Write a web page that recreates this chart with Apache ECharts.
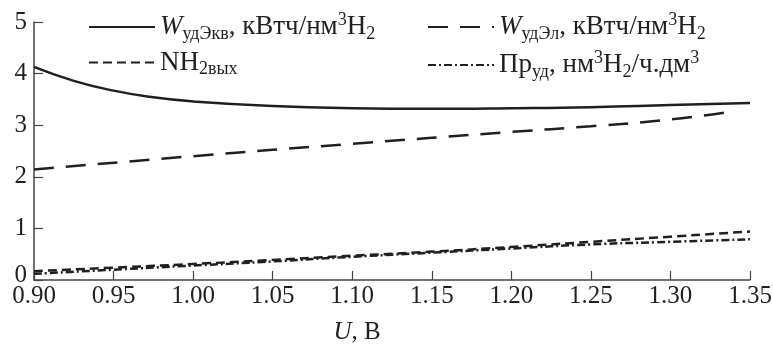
<!DOCTYPE html>
<html><head><meta charset="utf-8">
<script src="https://cdn.jsdelivr.net/npm/echarts@6/dist/echarts.min.js"></script>
<style>html,body{margin:0;padding:0;background:#fff}#c{width:773px;height:348px}</style>
</head><body><div id="c"></div>
<script>
const uValues = [0.90, 0.925, 0.95, 0.975, 1.00, 1.05, 1.10, 1.15, 1.20, 1.25, 1.30, 1.35];
const wEkv =    [4.13, 3.86, 3.67, 3.54, 3.46, 3.37, 3.33, 3.32, 3.33, 3.35, 3.39, 3.43];
const uEl = [0.90, 1.00, 1.10, 1.20, 1.25, 1.30, 1.335];
const wEl = [2.14, 2.40, 2.64, 2.87, 2.98, 3.11, 3.25];
const uLow = [0.90, 0.95, 1.00, 1.05, 1.10, 1.15, 1.20, 1.25, 1.30, 1.35];
const nh2 =  [0.17, 0.24, 0.31, 0.39, 0.47, 0.55, 0.64, 0.74, 0.84, 0.94];
const prUd = [0.12, 0.20, 0.28, 0.36, 0.45, 0.53, 0.61, 0.69, 0.74, 0.79];
const xTicks = ['0.90','0.95','1.00','1.05','1.10','1.15','1.20','1.25','1.30','1.35'];
const yTicks = ['0','1','2','3','4','5'];

const names = {
  ekv: '{i|W}{sub|удЭкв}{n|, кВтч/нм}{sup|3}{n|H}{sub|2}',
  el: '{i|W}{sub|удЭл}{n|, кВтч/нм}{sup|3}{n|H}{sub|2}',
  nh: '{n|NH}{sub|2вых}',
  pr: '{n|Пр}{sub|уд}{n|, нм}{sup|3}{n|H}{sub|2}{n|/ч.дм}{sup|3}'
};
const C = '#231f20';
const F = 'Liberation Serif';
const rich = {
  n: {fontFamily: F, fontSize: 27, color: C, lineHeight: 32},
  i: {fontFamily: F, fontSize: 27, color: C, fontStyle: 'italic', lineHeight: 32},
  sub: {fontFamily: F, fontSize: 18, color: C, verticalAlign: 'bottom', lineHeight: 18},
  sup: {fontFamily: F, fontSize: 18, color: C, verticalAlign: 'top', lineHeight: 18}
};
const richName = {
  n: {fontFamily: F, fontSize: 25, color: C, lineHeight: 30},
  i: {fontFamily: F, fontSize: 25, color: C, fontStyle: 'italic', lineHeight: 30}
};
const zip = (xs, ys) => xs.map((x, k) => [x, ys[k]]);
const mk = (key, xs, ys, type, smooth) => ({
  name: key, type: 'line', data: zip(xs, ys), smooth: smooth, showSymbol: false, symbol: 'none', symbolSize: 0,
  lineStyle: {color: C, width: 2.5, type: type}, itemStyle: {color: C}, animation: false
});
const legendBase = {
  orient: 'vertical', itemWidth: 66, itemHeight: 14, itemGap: 6,
  formatter: k => names[k], textStyle: {rich: rich}, itemStyle: {opacity: 0}
};
const chart = echarts.init(document.getElementById('c'), null, {renderer: 'canvas'});
chart.setOption({
  animation: false,
  grid: {left: 34, right: 23, top: 22, bottom: 68, containLabel: false, outerBoundsMode: 'none'},
  legend: [
    Object.assign({}, legendBase, {left: 83, top: 6, data: ['ekv', 'nh']}),
    Object.assign({}, legendBase, {left: 422, top: 6, data: ['el', 'pr']})
  ],
  xAxis: {
    type: 'value', min: 0.9, max: 1.35, interval: 0.05,
    axisLine: {lineStyle: {color: '#444', width: 1.5}},
    axisTick: {inside: true, length: 9, lineStyle: {color: '#444', width: 1.2}},
    splitLine: {show: false},
    axisLabel: {margin: 4, fontFamily: F, fontSize: 25, color: C,
      formatter: v => { const i = Math.round((v - 0.9) / 0.05); return xTicks[i] ?? ''; }},
    name: '{i|U}{n|, В}', nameLocation: 'middle', nameGap: 37,
    nameTextStyle: {rich: richName, padding: [0, 70, 0, 0]}
  },
  yAxis: {
    type: 'value', min: 0, max: 5, interval: 1,
    axisLine: {show: true, lineStyle: {color: '#444', width: 1.5}},
    axisTick: {show: true, inside: true, length: 9, lineStyle: {color: '#444', width: 1.2}},
    splitLine: {show: false},
    axisLabel: {margin: 7, fontFamily: F, fontSize: 25, color: C,
      formatter: v => v === 0 ? '{z|' + yTicks[0] + '}' : yTicks[Math.round(v)],
      rich: {z: {fontFamily: F, fontSize: 25, color: C, padding: [0, 0, 10, 0]}}}
  },
  series: [
    mk('ekv', uValues, wEkv, 'solid', true),
    mk('nh', uLow, nh2, [9, 5], true),
    mk('el', uEl, wEl, [20, 12], true),
    mk('pr', uLow, prUd, [8, 3, 2, 3], true)
  ]
});
</script></body></html>
